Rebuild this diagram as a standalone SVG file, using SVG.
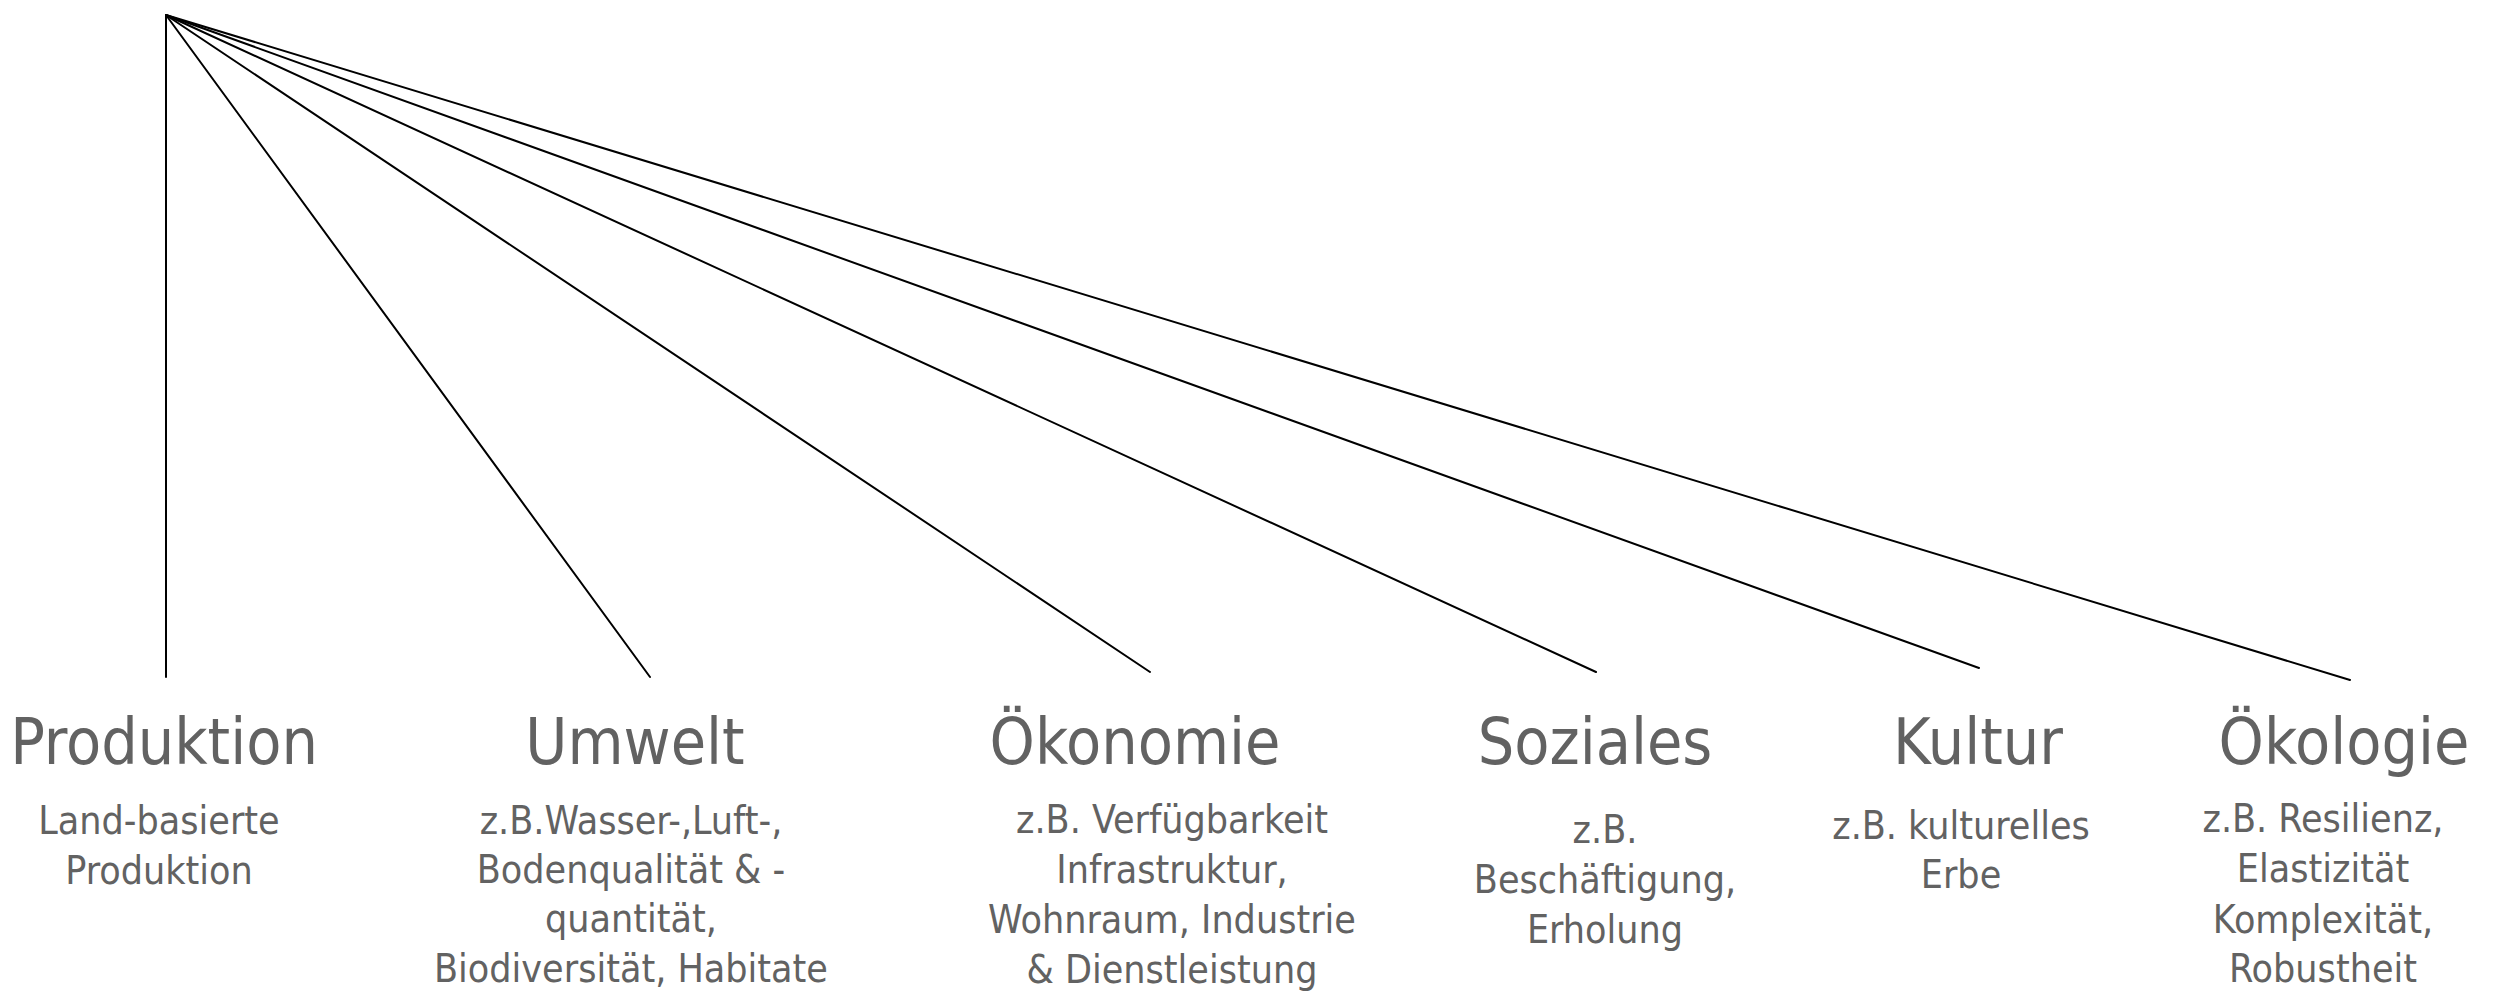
<svg xmlns="http://www.w3.org/2000/svg" width="2495" height="993" viewBox="0 0 2495 993">
<style>
  text { font-family: "DejaVu Sans Condensed", "DejaVu Sans", sans-serif; font-stretch: condensed; fill: #626262; text-anchor: middle; }
  .t { font-size: 64px; }
  .s { font-size: 39px; }
  .c line { stroke: #000; stroke-width: 2; stroke-linecap: round; }
</style>
<rect width="2495" height="993" fill="#fff"/>
<g id="connectors" class="c">
  <line x1="166" y1="15" x2="166" y2="677"/>
  <line x1="166" y1="15" x2="650" y2="677"/>
  <line x1="166" y1="15" x2="1150" y2="672"/>
  <line x1="166" y1="15" x2="1596" y2="672"/>
  <line x1="166" y1="15" x2="1979" y2="668"/>
  <line x1="166" y1="15" x2="2350" y2="680"/>
</g>
<g id="produktion">
  <text class="t" x="164" y="764">Produktion</text>
  <text class="s" x="159" y="834">Land-basierte</text>
  <text class="s" x="159" y="884">Produktion</text>
</g>
<g id="umwelt">
  <text class="t" x="635" y="764">Umwelt</text>
  <text class="s" x="631" y="834">z.B.Wasser-,Luft-,</text>
  <text class="s" x="631" y="883">Bodenqualität &amp; -</text>
  <text class="s" x="631" y="932">quantität,</text>
  <text class="s" x="631" y="982">Biodiversität, Habitate</text>
</g>
<g id="oekonomie">
  <text class="t" x="1135" y="764">Ökonomie</text>
  <text class="s" x="1172" y="833">z.B. Verfügbarkeit</text>
  <text class="s" x="1172" y="883">Infrastruktur,</text>
  <text class="s" x="1172" y="933">Wohnraum, Industrie</text>
  <text class="s" x="1172" y="983">&amp; Dienstleistung</text>
</g>
<g id="soziales">
  <text class="t" x="1595" y="764">Soziales</text>
  <text class="s" x="1605" y="843">z.B.</text>
  <text class="s" x="1605" y="893">Beschäftigung,</text>
  <text class="s" x="1605" y="943">Erholung</text>
</g>
<g id="kultur">
  <text class="t" x="1978" y="764">Kultur</text>
  <text class="s" x="1961" y="839">z.B. kulturelles</text>
  <text class="s" x="1961" y="888">Erbe</text>
</g>
<g id="oekologie">
  <text class="t" x="2344" y="764">Ökologie</text>
  <text class="s" x="2323" y="832">z.B. Resilienz,</text>
  <text class="s" x="2323" y="882">Elastizität</text>
  <text class="s" x="2323" y="933">Komplexität,</text>
  <text class="s" x="2323" y="982">Robustheit</text>
</g>
</svg>
